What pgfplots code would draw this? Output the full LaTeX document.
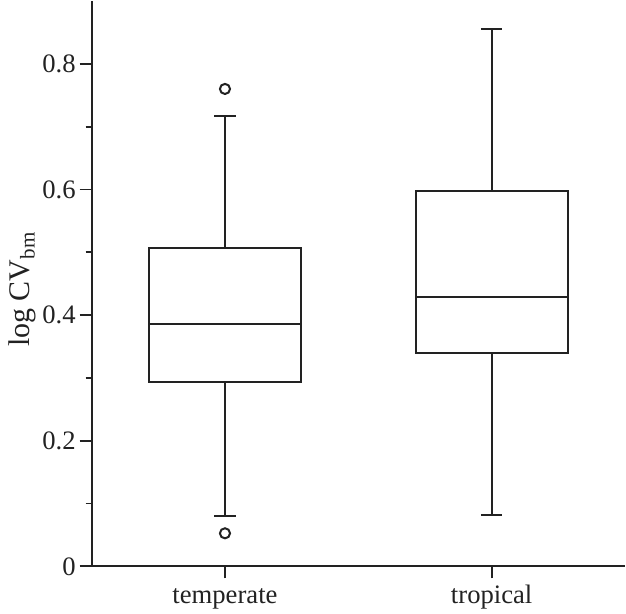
\documentclass[border=0pt]{standalone}
\usepackage{fontspec}
\setmainfont{Liberation Serif}
\usepackage{pgfplots}
\pgfplotsset{compat=1.18}
\usepgfplotslibrary{statistics}
\definecolor{ink}{HTML}{222222}
\begin{document}
\begin{tikzpicture}
\begin{axis}[
  name=main,
  scale only axis,
  width=400.5pt, height=424.5pt,
  xmin=0.5, xmax=2.5, ymin=0, ymax=0.9,
  axis x line*=bottom, axis y line*=left,
  axis line style={ink, line width=1.5pt},
  tick style={ink, line width=1.4pt},
  tick align=outside,
  major tick length=9pt, minor tick length=4.5pt,
  xtick={1,2}, xticklabels={temperate,tropical},
  ytick={0,0.2,0.4,0.6,0.8}, yticklabels={0,0.2,0.4,0.6,0.8},
  minor ytick={0.1,0.3,0.5,0.7},
  x tick label style={font=\fontsize{20}{24}\selectfont, color=ink, anchor=base, yshift=-19pt},
  y tick label style={font=\fontsize{20}{24}\selectfont, color=ink, inner xsep=2.75pt},
  /pgf/number format/assume math mode=true,
  ylabel={log CV\textsubscript{bm}},
  every axis y label/.style={at={(axis description cs:0,0.49)}, xshift=-52pt, rotate=90, anchor=center,
    font=\fontsize{22.5}{26}\selectfont, color=ink},
  boxplot/draw direction=y,
  boxplot/box extend=0.57,
  boxplot/whisker extend=0.08,
  boxplot/every box/.style={line width=1.5pt},
  boxplot/every whisker/.style={line width=1.5pt},
  boxplot/every median/.style={line width=1.5pt},
  clip=false,
]
\addplot[ink, line width=1.5pt, mark=o, mark size=3.8pt, mark options={line width=1.5pt},
  boxplot prepared={draw position=1, lower whisker=0.080, lower quartile=0.293,
    median=0.386, upper quartile=0.506, upper whisker=0.717}]
  table[row sep=\\, y index=0] {0.760\\ 0.0526\\};
\addplot[ink, line width=1.5pt, mark=o, mark size=3.8pt, mark options={line width=1.5pt},
  boxplot prepared={draw position=2, lower whisker=0.082, lower quartile=0.340,
    median=0.428, upper quartile=0.598, upper whisker=0.856}]
  coordinates {};
\end{axis}
\path (main.south west) ++(-68.8pt,-32.25pt) -- ++(1pt,0);
\end{tikzpicture}
\end{document}
